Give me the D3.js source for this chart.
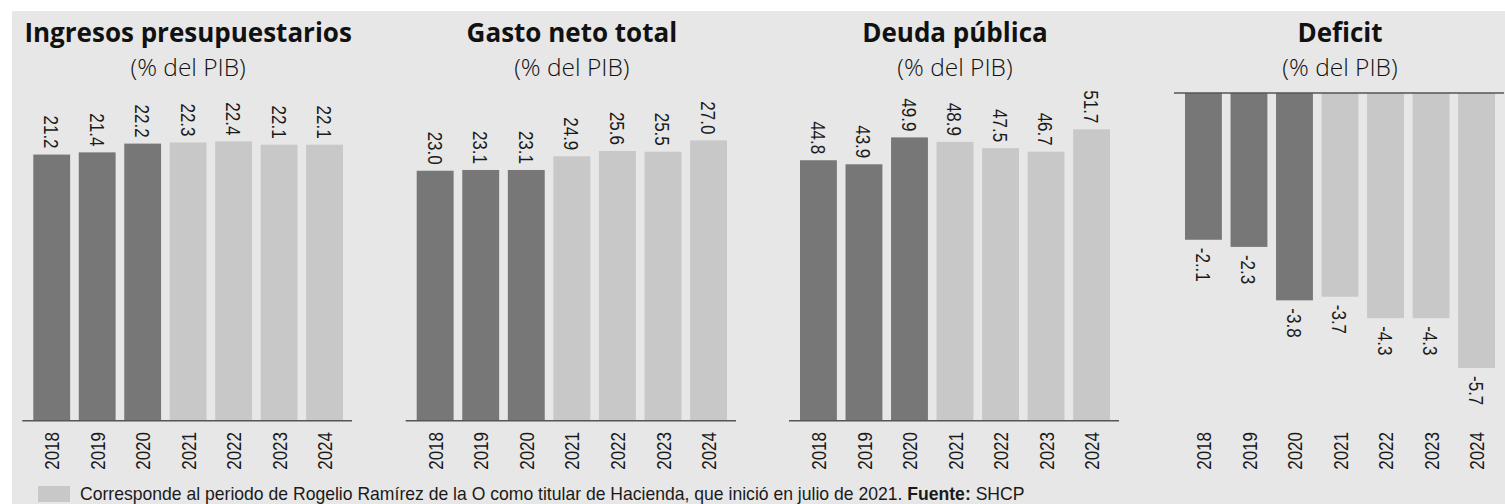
<!DOCTYPE html>
<meta charset="utf-8">
<style>
body { margin: 0; background: #fff; }
.title { font-family: "Open Sans", sans-serif; font-weight: 700; font-size: 26px; fill: #111; }
.sub { font-family: "Open Sans", sans-serif; font-weight: 300; font-size: 24.5px; fill: #111; }
.num { font-family: "Liberation Sans", Arial, sans-serif; font-size: 21px; fill: #1a1a1a; }
.note { font-family: "Liberation Sans", Arial, sans-serif; font-size: 18px; fill: #1a1a1a; }
</style>
<body>
<script src="https://cdnjs.cloudflare.com/ajax/libs/d3/7.8.5/d3.min.js"></script>
<script>
var w = 1505, h = 504;

// data
var years = ["2018", "2019", "2020", "2021", "2022", "2023", "2024"];
var ingresos = [21.2, 21.4, 22.2, 22.3, 22.4, 22.1, 22.1];
var gasto = [23.0, 23.1, 23.1, 24.9, 25.6, 25.5, 27.0];
var deuda = [44.8, 43.9, 49.9, 48.9, 47.5, 46.7, 51.7];
var deficit = [-2.1, -2.3, -3.8, -3.7, -4.3, -4.3, -5.7];
var deficitLabels = ["-2..1", "-2.3", "-3.8", "-3.7", "-4.3", "-4.3", "-5.7"];
var titles = ["Ingresos presupuestarios", "Gasto neto total", "Deuda pública", "Deficit"];
var subtitle = "(% del PIB)";
var firstNew = "2021"; // periodo de Rogelio Ramírez de la O

var fmt = d3.format(".1f");
var dark = "#777777", light = "#c8c8c8";
var squeeze = 0.81; // narrow the sans to look condensed

var svg = d3.select("body").append("svg")
	.attr("width", w)
	.attr("height", h);

svg.append("rect")
	.attr("x", 12).attr("y", 11)
	.attr("width", w - 12).attr("height", h - 11)
	.attr("fill", "#e7e7e7");

var panels = [
	{ title: titles[0], values: ingresos, labels: ingresos.map(fmt), xr: [33.3, 343], dom: [-3.1, 22.53], yr: [420.7, 140], base: 420.7 },
	{ title: titles[1], values: gasto, labels: gasto.map(fmt), xr: [416.7, 727], dom: [-9.93, 27.05], yr: [420.7, 140], base: 420.7 },
	{ title: titles[2], values: deuda, labels: deuda.map(fmt), xr: [800, 1110], dom: [-13.36, 49.32], yr: [420.7, 140], base: 420.7 },
	{ title: titles[3], values: deficit, labels: deficitLabels, xr: [1185, 1495], dom: [2.02, -6], yr: [93, 378.7], base: 93 }
];

panels.forEach(function(p) {
	var x = d3.scaleBand().domain(years).range(p.xr).paddingInner(0.19).paddingOuter(0);
	var y = d3.scaleLinear().domain(p.dom).range(p.yr);
	var neg = p.base < 200;
	var cx = (p.xr[0] + p.xr[1]) / 2;
	var g = svg.append("g");
	var rows = years.map(function(yr, i) { return { year: yr, v: p.values[i], label: p.labels[i] }; });

	g.append("text").attr("class", "title")
		.attr("x", cx).attr("y", 42)
		.attr("text-anchor", "middle")
		.text(p.title);
	g.append("text").attr("class", "sub")
		.attr("x", cx).attr("y", 76)
		.attr("text-anchor", "middle")
		.text(subtitle);

	g.selectAll("rect.bar")
		.data(rows)
		.enter()
		.append("rect")
		.attr("class", "bar")
		.attr("x", function(d) { return x(d.year); })
		.attr("width", x.bandwidth())
		.attr("y", function(d) { return neg ? p.base : y(d.v); })
		.attr("height", function(d) { return Math.abs(y(d.v) - p.base); })
		.attr("fill", function(d) { return d.year < firstNew ? dark : light; });

	g.append("line")
		.attr("x1", p.xr[0] - 11).attr("x2", p.xr[1] + 9)
		.attr("y1", p.base).attr("y2", p.base)
		.attr("stroke", "#555").attr("stroke-width", 1.5);

	// value labels, rotated to read downwards
	g.selectAll("text.val")
		.data(rows)
		.enter()
		.append("text")
		.attr("class", "num val")
		.attr("transform", function(d) {
			var ty = neg ? y(d.v) + 8 : y(d.v) - 6;
			return "translate(" + (x(d.year) + x.bandwidth() / 2) + "," + ty + ") rotate(90) scale(" + squeeze + ",1)";
		})
		.attr("text-anchor", neg ? "start" : "end")
		.attr("dy", "0.36em")
		.text(function(d) { return d.label; });

	// year labels, rotated to read upwards
	g.selectAll("text.yr")
		.data(rows)
		.enter()
		.append("text")
		.attr("class", "num yr")
		.attr("transform", function(d) {
			return "translate(" + (x(d.year) + x.bandwidth() / 2) + ",432) rotate(-90) scale(" + squeeze + ",1)";
		})
		.attr("text-anchor", "end")
		.attr("dy", "0.36em")
		.text(function(d) { return d.year; });
});

// footnote
svg.append("rect")
	.attr("x", 38).attr("y", 486)
	.attr("width", 32).attr("height", 16)
	.attr("fill", light);

var note = svg.append("text").attr("class", "note")
	.attr("x", 0).attr("y", 0);
note.append("tspan").text("Corresponde al periodo de Rogelio Ramírez de la O como titular de Hacienda, que inició en julio de 2021. ");
note.append("tspan").attr("font-weight", 700).text("Fuente:");
note.append("tspan").text(" SHCP");
var noteLen = note.node().getComputedTextLength();
note.attr("transform", "translate(80,499.5) scale(" + (945 / noteLen) + ",1)");

</script>
</body>
